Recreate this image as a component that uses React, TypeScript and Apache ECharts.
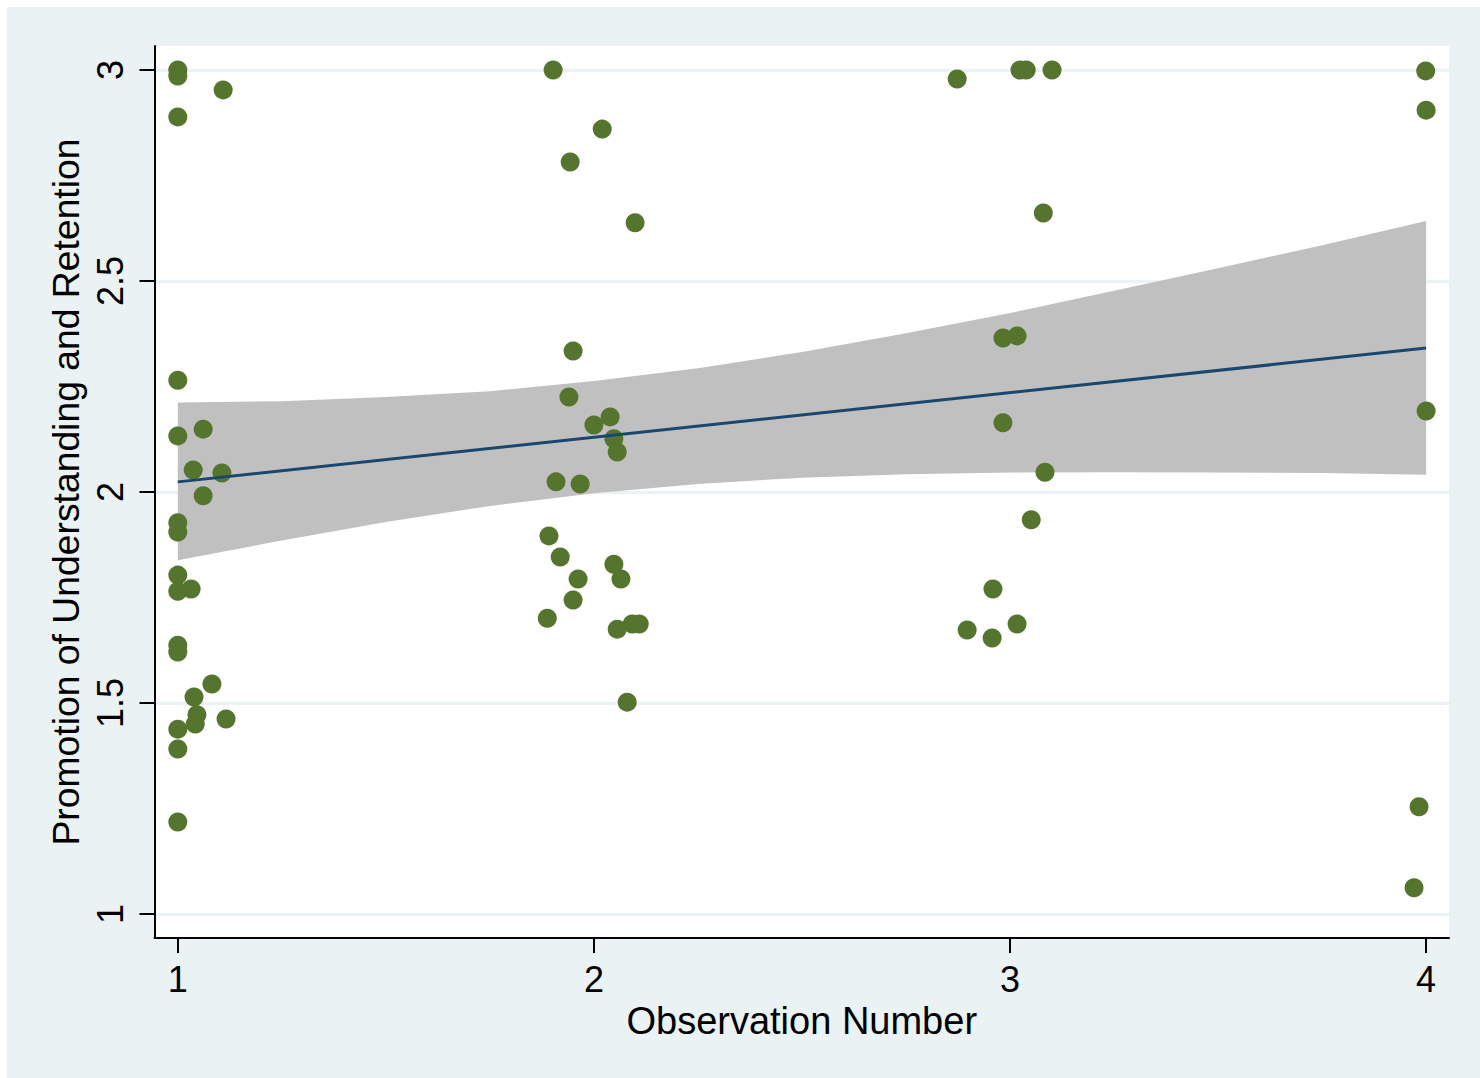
import React, { useEffect, useRef } from "react";
import * as echarts from "echarts";

// Observation number (jittered) and score
const obsX = [
  1.0, 1.0, 1.109, 1.0, 1.0, 1.0, 1.061, 1.037, 1.106, 1.061, 1.0, 1.0, 1.0, 1.0, 1.032, 1.0, 1.0,
  1.082, 1.039, 1.046, 1.042, 1.116, 1.0, 1.0, 1.0,
  1.902, 2.02, 1.943, 2.099, 1.95, 1.94, 2.039, 2.0, 2.048, 2.056, 1.909, 1.967, 1.892, 1.919,
  2.048, 1.962, 2.065, 1.95, 1.888, 2.056, 2.092, 2.109, 2.08,
  2.873, 3.024, 3.039, 3.101, 3.08, 2.983, 3.017, 2.983, 3.084, 3.051, 2.959, 2.897, 2.957, 3.017,
  3.999, 4.0, 4.0, 3.983, 3.971,
];
const promoY = [
  3.0, 2.986, 2.953, 2.889, 2.265, 2.133, 2.149, 2.052, 2.045, 1.991, 1.927, 1.905, 1.803, 1.765,
  1.77, 1.637, 1.621, 1.545, 1.514, 1.472, 1.45, 1.462, 1.438, 1.391, 1.218,
  3.0, 2.86, 2.782, 2.638, 2.334, 2.225, 2.178, 2.159, 2.126, 2.095, 2.024, 2.019, 1.896, 1.846,
  1.829, 1.794, 1.794, 1.744, 1.701, 1.675, 1.687, 1.687, 1.502,
  2.979, 3.0, 3.0, 3.0, 2.661, 2.365, 2.37, 2.164, 2.047, 1.934, 1.77, 1.673, 1.654, 1.687,
  2.998, 2.905, 2.192, 1.254, 1.062,
];

// Linear fit line
const fitX = [1, 4];
const fitY = [2.024, 2.341];

// Confidence band edges
const bandX = [1, 1.25, 1.5, 1.75, 2, 2.25, 2.5, 2.75, 3, 3.25, 3.5, 3.75, 4];
const bandUpper = [2.212, 2.215, 2.225, 2.239, 2.263, 2.293, 2.332, 2.376, 2.424, 2.477, 2.53, 2.585, 2.642];
const bandLower = [1.838, 1.885, 1.929, 1.967, 1.997, 2.019, 2.034, 2.042, 2.046, 2.047, 2.046, 2.045, 2.041];

// Ticks
const xTicks = [1, 2, 3, 4];
const yTicks = [1, 1.5, 2, 2.5, 3];

export default function App() {
  const ref = useRef<HTMLDivElement>(null);
  useEffect(() => {
    document.body.style.margin = "0";
    const chart = echarts.init(ref.current!, null, { renderer: "svg" });
    const font = "'Liberation Sans', Arial, sans-serif";
    const option: any = {
      animation: false,
      backgroundColor: "#EAF2F3",
      textStyle: { fontFamily: font },
      grid: {
        left: 147.5,
        top: 39,
        right: 31,
        bottom: 140,
        show: true,
        backgroundColor: "#FFFFFF",
        borderWidth: 0,
      },
      xAxis: {
        type: "value",
        min: 0.944,
        max: 4.055,
        name: "Observation Number",
        nameLocation: "middle",
        nameGap: 53,
        nameTextStyle: { fontSize: 38, color: "#000", fontFamily: font },
        axisLine: { show: true, onZero: false, lineStyle: { color: "#000", width: 2 } },
        axisTick: { show: true, customValues: xTicks, length: 15, lineStyle: { color: "#000", width: 2 } },
        axisLabel: { customValues: xTicks, fontSize: 36, color: "#000", margin: 23, fontFamily: font },
        splitLine: { show: false },
      },
      yAxis: {
        type: "value",
        min: 0.943,
        max: 3.057,
        name: "Promotion of Understanding and Retention",
        nameLocation: "middle",
        nameGap: 60,
        nameRotate: 90,
        nameTextStyle: { fontSize: 37.3, color: "#000", fontFamily: font },
        axisLine: { show: true, onZero: false, lineStyle: { color: "#000", width: 2 } },
        axisTick: { show: true, customValues: yTicks, length: 15, lineStyle: { color: "#000", width: 2 } },
        axisLabel: { customValues: yTicks, rotate: 90, fontSize: 36, color: "#000", margin: 26, fontFamily: font },
        splitLine: { show: true, lineStyle: { color: "#EAF2F3", width: 3 } },
      },
      series: [
        {
          type: "custom",
          silent: true,
          data: [[bandX[0], bandLower[0]]],
          renderItem: (params: any, api: any) => {
            const pts: number[][] = [];
            for (let i = 0; i < bandX.length; i++) pts.push(api.coord([bandX[i], bandUpper[i]]));
            for (let i = bandX.length - 1; i >= 0; i--) pts.push(api.coord([bandX[i], bandLower[i]]));
            return { type: "polygon", shape: { points: pts }, style: { fill: "#C0C0C0" } };
          },
        },
        {
          type: "line",
          data: fitX.map((x, i) => [x, fitY[i]]),
          showSymbol: false,
          symbol: "none",
          lineStyle: { color: "#1A476F", width: 3 },
          silent: true,
        },
        {
          type: "scatter",
          data: obsX.map((x, i) => [x, promoY[i]]),
          symbol: "circle",
          symbolSize: 19,
          itemStyle: { color: "#55752F", opacity: 1 },
        },
      ],
    };
    chart.setOption(option);
    return () => chart.dispose();
  }, []);
  return (
    <div
      ref={ref}
      style={{ position: "absolute", left: 7, top: 7, width: 1473, height: 1071 }}
    />
  );
}
